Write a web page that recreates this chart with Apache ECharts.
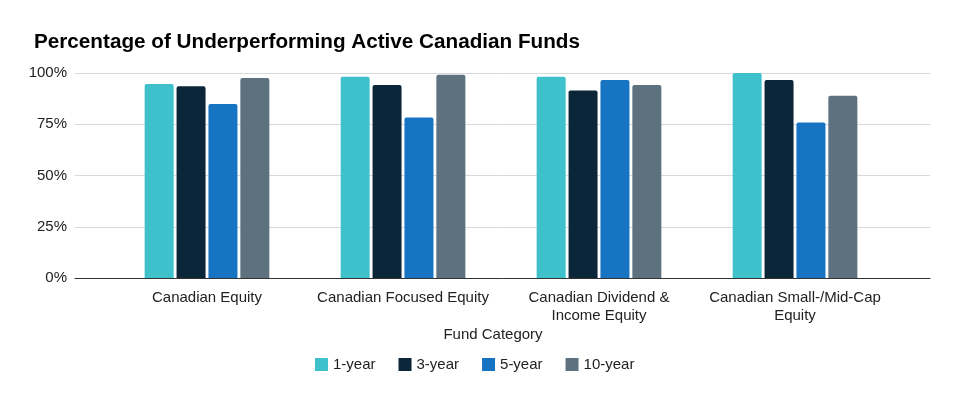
<!DOCTYPE html>
<html><head><meta charset="utf-8">
<script src="https://cdn.jsdelivr.net/npm/echarts@6/dist/echarts.min.js"></script>
<style>html,body{margin:0;padding:0;background:#fff}#c{width:960px;height:401px}</style>
</head><body><div id="c"></div>
<script>
const categories = ['Canadian Equity', 'Canadian Focused Equity', 'Canadian Dividend &\nIncome Equity', 'Canadian Small-/Mid-Cap\nEquity'];
const seriesNames = ['1-year', '3-year', '5-year', '10-year'];
const oneYear = [94.6, 98.2, 98.2, 100];
const threeYear = [93.5, 94.1, 91.5, 96.6];
const fiveYear = [84.9, 78.3, 96.6, 75.9];
const tenYear = [97.6, 99.1, 94.1, 88.9];
const yTicks = [0, 25, 50, 75, 100];
const colors = ['#3EC1CA', '#0B2539', '#1674C3', '#5D717E'];
const values = [oneYear, threeYear, fiveYear, tenYear];

const font = 'Liberation Sans, Arial, Helvetica, sans-serif';
const chart = echarts.init(document.getElementById('c'), null, {renderer: 'canvas'});
chart.setOption({
  animation: false,
  color: colors,
  title: [{
    text: 'Percentage of Underperforming Active Canadian Funds',
    left: 29, top: 27,
    textStyle: {fontFamily: font, fontWeight: 'bold', fontSize: 20.7, color: '#000'}
  }, {
    text: 'Fund Category', left: 488, top: 322, textAlign: 'center',
    textStyle: {fontFamily: font, fontWeight: 'normal', fontSize: 15, color: '#222'}
  }],
  legend: {
    data: seriesNames, top: 352, left: 310,
    itemWidth: 13, itemHeight: 13, itemGap: 23, icon: 'rect',
    textStyle: {fontFamily: font, fontSize: 15, color: '#222'}
  },
  grid: [
    {left: 109, right: 67, top: 73, bottom: 123},
    {left: 75, right: 30, top: 73, bottom: 123}
  ],
  xAxis: [
    {type: 'category', gridIndex: 0, data: categories,
     axisLine: {show: false}, axisTick: {show: false},
     axisLabel: {interval: 0, fontFamily: font, fontSize: 15, color: '#222', margin: 11, lineHeight: 18}},
    {type: 'category', gridIndex: 1, data: [''],
     axisLine: {show: true, lineStyle: {color: '#333', width: 1}}, axisTick: {show: false},
     axisLabel: {show: false}}
  ],
  yAxis: [
    {type: 'value', gridIndex: 0, min: 0, max: 1, interval: 0.25, show: false},
    {type: 'value', gridIndex: 1, min: 0, max: 100, interval: 25,
     axisLine: {show: false}, axisTick: {show: false},
     splitLine: {lineStyle: {color: '#d9d9d9'}},
     axisLabel: {fontFamily: font, fontSize: 15, color: '#222', margin: 8,
       formatter: v => yTicks.includes(v) ? v + '%' : ''}}
  ],
  series: values.map((arr, i) => ({
    name: seriesNames[i], type: 'bar', xAxisIndex: 0, yAxisIndex: 0,
    data: arr.map(v => v / 100), barWidth: 29, barGap: '10%',
    itemStyle: {color: colors[i], borderRadius: [2, 2, 0, 0]}
  }))
});
</script></body></html>
